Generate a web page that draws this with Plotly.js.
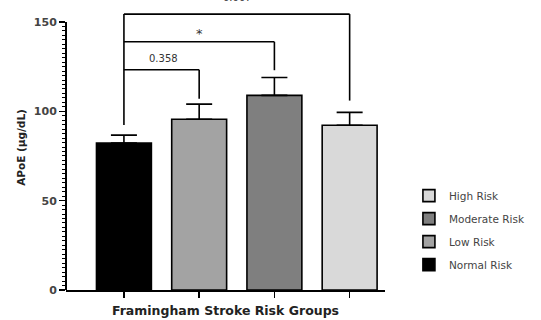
<!DOCTYPE html>
<html>
<head>
<meta charset="utf-8">
<script src="https://cdn.plot.ly/plotly-3.0.1.min.js"></script>
<style>
  html, body { margin: 0; padding: 0; background: #fff; }
  #chart { width: 541px; height: 320px; }
</style>
</head>
<body>
<div id="chart"></div>
<script>
// APoE by Framingham stroke risk group (mean with upper SEM)
const groups = ["Normal Risk", "Low Risk", "Moderate Risk", "High Risk"];
const means = [82.2, 95.6, 108.9, 92.2];
const sem = [4.5, 8.4, 10.0, 7.2];
const fills = ["#000000", "#a3a3a3", "#7f7f7f", "#d9d9d9"];

// pairwise comparisons against Normal Risk
const compTarget = [1, 2, 3];
const compLabels = ["0.358", "*", "0.007"];
const yTicks = [0, 50, 100, 150];

const traces = groups.map((g, i) => ({
  type: "bar",
  name: g,
  x: [i],
  y: [means[i]],
  width: 0.73,
  legendgroup: g,
  legendrank: groups.length - i,
  marker: { color: fills[i], line: { color: "#000", width: 1.6 } },
  error_y: {
    type: "data", symmetric: false,
    array: [sem[i]], arrayminus: [0],
    color: "#000", thickness: 1.6, width: 13
  },
  hoverinfo: "skip"
}));

// bracket heights and drop ends (data units)
const barH = [123.3, 138.9, 154.4];
const dropEnd = [107, 123, 106];
const shapes = [];
const lineStyle = { color: "#000", width: 1.6 };
// shared left leg from Normal Risk error bar
shapes.push({ type: "line", xref: "x", yref: "y", x0: 0, x1: 0, y0: 92.3, y1: barH[2], line: lineStyle });
compTarget.forEach((t, k) => {
  shapes.push({ type: "line", xref: "x", yref: "y", x0: 0, x1: t, y0: barH[k], y1: barH[k], line: lineStyle });
  shapes.push({ type: "line", xref: "x", yref: "y", x0: t, x1: t, y0: barH[k], y1: dropEnd[k], line: lineStyle });
});
// y axis spine ending at the top tick
shapes.push({ type: "line", xref: "paper", yref: "y", x0: 0, x1: 0, y0: 0, y1: 150, line: { color: "#000", width: 2 } });

// label anchors: x in category units, y in paper units
const labelPos = [[0.52, 0.84], [1.0, 0.935], [1.51, 1.052]];
const annotations = compLabels.map((s, k) => ({
  x: labelPos[k][0], y: labelPos[k][1], xref: "x", yref: "paper",
  text: s, showarrow: false,
  font: { family: "DejaVu Sans", size: s === "*" ? 13 : 10, color: "#333" }
}));

const minorVals = [];
for (let v = 0; v <= 150; v += 2.5) if (v % 50 !== 0) minorVals.push(v);

const layout = {
  width: 541, height: 320,
  margin: { l: 66, r: 156, t: 5, b: 30 },
  paper_bgcolor: "#fff", plot_bgcolor: "#fff",
  barmode: "overlay",
  showlegend: true,
  font: { family: "DejaVu Sans", color: "#333" },
  xaxis: {
    range: [-0.77, 3.47],
    tickvals: [0, 1, 2, 3], ticktext: ["", "", "", ""],
    ticks: "outside", ticklen: 6, tickwidth: 1.6, tickcolor: "#000",
    showline: true, linecolor: "#000", linewidth: 2,
    showgrid: false, zeroline: false,
    title: { text: "Framingham Stroke Risk Groups", font: { size: 12.5, weight: "bold", color: "#222" }, standoff: 7 }
  },
  yaxis: {
    range: [0, 159.5],
    tickvals: yTicks,
    ticks: "outside", ticklen: 6, tickwidth: 1.6, tickcolor: "#000",
    minor: { tickvals: minorVals, ticks: "outside", ticklen: 3, tickwidth: 1, tickcolor: "#000" },
    showline: false, showgrid: false, zeroline: false,
    tickfont: { size: 11, weight: "bold", color: "#444" },
    title: { text: "APoE (μg/dL)", font: { size: 10.5, weight: "bold", color: "#222" }, standoff: 6 }
  },
  legend: {
    x: 1.075, y: 0.21, xanchor: "left", yanchor: "middle",
    traceorder: "grouped", tracegroupgap: 4,
    font: { size: 10.5, color: "#444" },
    bgcolor: "rgba(0,0,0,0)"
  },
  shapes: shapes,
  annotations: annotations
};

Plotly.newPlot("chart", traces, layout, { displayModeBar: false, staticPlot: true });
</script>
</body>
</html>
